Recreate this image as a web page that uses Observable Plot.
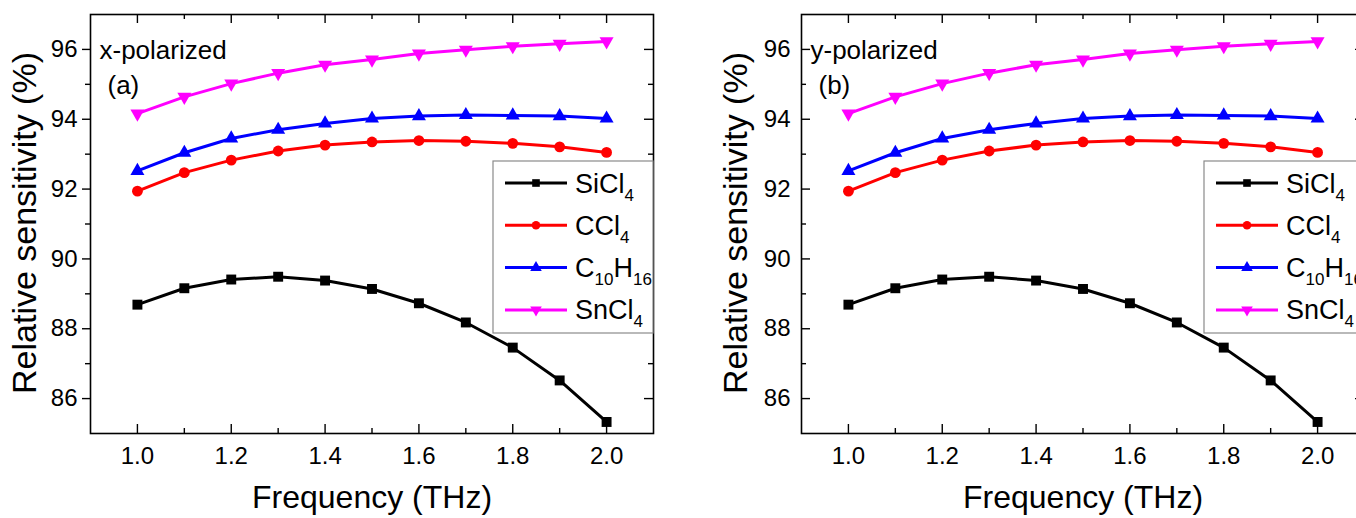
<!DOCTYPE html>
<html>
<head>
<meta charset="utf-8">
<script src="https://cdn.jsdelivr.net/npm/d3@7"></script>
<script src="https://cdn.jsdelivr.net/npm/@observablehq/plot@0.6"></script>
<style>
html, body { margin: 0; padding: 0; background: #fff; }
body { width: 1356px; height: 518px; overflow: hidden; position: relative; }
.panel { position: absolute; top: 0; width: 700px; height: 518px; }
.panel svg { max-width: none !important; display: block; }
</style>
</head>
<body>
<div id="a" class="panel" style="left:0px"></div>
<div id="b" class="panel" style="left:711px"></div>
<script>
// ---- data ----
const frequency = [1.0, 1.1, 1.2, 1.3, 1.4, 1.5, 1.6, 1.7, 1.8, 1.9, 2.0];
const seriesNames = ["SiCl4", "CCl4", "C10H16", "SnCl4"];
const sicl4  = [88.69, 89.16, 89.41, 89.49, 89.38, 89.14, 88.73, 88.18, 87.46, 86.52, 85.33];
const ccl4   = [91.94, 92.47, 92.83, 93.09, 93.26, 93.35, 93.39, 93.37, 93.31, 93.21, 93.05];
const c10h16 = [92.52, 93.04, 93.45, 93.70, 93.88, 94.02, 94.09, 94.12, 94.11, 94.09, 94.02];
const sncl4  = [94.16, 94.64, 95.02, 95.32, 95.56, 95.71, 95.88, 95.99, 96.09, 96.16, 96.23];
const xTicks = [1.0, 1.2, 1.4, 1.6, 1.8, 2.0];
const xMinor = [1.1, 1.3, 1.5, 1.7, 1.9];
const yTicks = [86, 88, 90, 92, 94, 96];
const yMinor = [87, 89, 91, 93, 95];
const panels = [
  {id: "a", title: "x-polarized", tag: "(a)", values: [sicl4, ccl4, c10h16, sncl4]},
  {id: "b", title: "y-polarized", tag: "(b)", values: [sicl4, ccl4, c10h16, sncl4]}
];

// ---- styles ----
const FONT = "'Liberation Sans', Arial, Helvetica, sans-serif";
const triangleDown = {
  draw(ctx, size) {
    const y = -Math.sqrt(size / (Math.sqrt(3) * 3));
    ctx.moveTo(0, -y * 2);
    ctx.lineTo(-Math.sqrt(3) * y, y);
    ctx.lineTo(Math.sqrt(3) * y, y);
    ctx.closePath();
  }
};
const style = {
  "SiCl4":  {color: "#000000", symbol: d3.symbolSquare, r: 5.6, sub: [["SiCl", false], ["4", true]]},
  "CCl4":   {color: "#ff0000", symbol: d3.symbolCircle, r: 5.4, sub: [["CCl", false], ["4", true]]},
  "C10H16": {color: "#0000ff", symbol: d3.symbolTriangle, r: 5.2, sub: [["C", false], ["10", true], ["H", false], ["16", true]]},
  "SnCl4":  {color: "#ff00ff", symbol: triangleDown, r: 5.2, sub: [["SnCl", false], ["4", true]]}
};

const W = 700, H = 518, mL = 90, mR = 47, mT = 14, mB = 85;
const innerW = W - mL - mR, innerH = H - mT - mB;

function drawPanel(p, idx) {
  const rows = seriesNames.flatMap((s, i) => frequency.map((f, j) => ({freq: f, value: p.values[i][j], series: s})));
  const leftOut = idx === 0;
  const marks = [
    Plot.frame({stroke: "#000", strokeWidth: 1.6}),
    Plot.tickX(xTicks, {x: d => d, insetTop: innerH - 9, stroke: "#000", strokeWidth: 1.4}),
    Plot.tickX(xMinor, {x: d => d, insetTop: innerH - 5, stroke: "#000", strokeWidth: 1.4}),
    Plot.tickX(xTicks, {x: d => d, insetBottom: innerH - 9, stroke: "#000", strokeWidth: 1.4}),
    Plot.tickX(xMinor, {x: d => d, insetBottom: innerH - 5, stroke: "#000", strokeWidth: 1.4}),
    Plot.tickY(yTicks, {y: d => d, insetLeft: innerW - 9, stroke: "#000", strokeWidth: 1.4}),
    Plot.tickY(yMinor, {y: d => d, insetLeft: innerW - 5, stroke: "#000", strokeWidth: 1.4}),
    Plot.axisX(xTicks, {tickSize: 0, tickPadding: 13, tickFormat: d3.format(".1f"), label: null, fontSize: 24}),
  ];
  if (leftOut) {
    marks.push(Plot.axisY(yTicks, {tickSize: 8, tickPadding: 5, strokeWidth: 1.4, label: null, fontSize: 24}));
    marks.push(Plot.axisY(yMinor, {tickSize: 5, strokeWidth: 1.4, tickFormat: () => "", label: null}));
  } else {
    marks.push(Plot.tickY(yTicks, {y: d => d, insetRight: innerW - 9, stroke: "#000", strokeWidth: 1.4}));
    marks.push(Plot.tickY(yMinor, {y: d => d, insetRight: innerW - 5, stroke: "#000", strokeWidth: 1.4}));
    marks.push(Plot.axisY(yTicks, {tickSize: 0, tickPadding: 11, label: null, fontSize: 24}));
  }
  for (const s of seriesNames) {
    const st = style[s];
    const d = rows.filter(r => r.series === s);
    marks.push(Plot.line(d, {x: "freq", y: "value", stroke: st.color, strokeWidth: 3}));
    marks.push(Plot.dot(d, {x: "freq", y: "value", fill: st.color, stroke: "none", symbol: st.symbol, r: st.r}));
  }
  marks.push(Plot.text(["Relative sensitivity (%)"], {frameAnchor: "left", textAnchor: "middle", lineAnchor: "middle", rotate: -90, dx: -65, dy: -1, fontSize: 34}));
  marks.push(Plot.text(["Frequency (THz)"], {frameAnchor: "bottom", textAnchor: "middle", lineAnchor: "middle", dy: 64, fontSize: 32}));
  marks.push(Plot.text([p.title], {frameAnchor: "top-left", textAnchor: "start", lineAnchor: "middle", dx: 9, dy: 36, fontSize: 26}));
  marks.push(Plot.text([p.tag], {frameAnchor: "top-left", textAnchor: "start", lineAnchor: "middle", dx: 17, dy: 71, fontSize: 26}));

  const svg = Plot.plot({
    width: W, height: H,
    marginLeft: mL, marginRight: mR, marginTop: mT, marginBottom: mB,
    x: {domain: [0.9, 2.1], axis: null},
    y: {domain: [85, 97], axis: null},
    style: {fontFamily: FONT, fontSize: "24px", color: "#000", background: "#fff", overflow: "visible"},
    marks
  });

  // legend box
  const lg = d3.select(svg).append("g").attr("transform", `translate(${mL + 403},${161})`)
    .attr("font-family", FONT).attr("text-anchor", "start");
  lg.append("rect").attr("x", 0).attr("y", 0).attr("width", 160).attr("height", 172)
    .attr("fill", "#fff").attr("stroke", "#8a8a8a").attr("stroke-width", 1.2);
  seriesNames.forEach((s, i) => {
    const st = style[s];
    const cy = 22 + i * 42.3;
    lg.append("line").attr("x1", 12).attr("x2", 74).attr("y1", cy).attr("y2", cy)
      .attr("stroke", st.color).attr("stroke-width", 3);
    lg.append("path").attr("transform", `translate(43,${cy})`)
      .attr("d", d3.symbol(st.symbol, Math.PI * 4.3 * 4.3)()).attr("fill", st.color);
    const t = lg.append("text").attr("x", 82).attr("y", cy + 9.5).attr("font-size", 27).attr("fill", "#000");
    let low = false;
    st.sub.forEach(([txt, isSub]) => {
      const ts = t.append("tspan").text(txt);
      if (isSub && !low) { ts.attr("dy", 8).attr("font-size", 17); low = true; }
      else if (isSub) { ts.attr("font-size", 17); }
      else if (!isSub && low) { ts.attr("dy", -8); low = false; }
    });
  });
  document.getElementById(p.id).appendChild(svg);
}
panels.forEach(drawPanel);
</script>
</body>
</html>
